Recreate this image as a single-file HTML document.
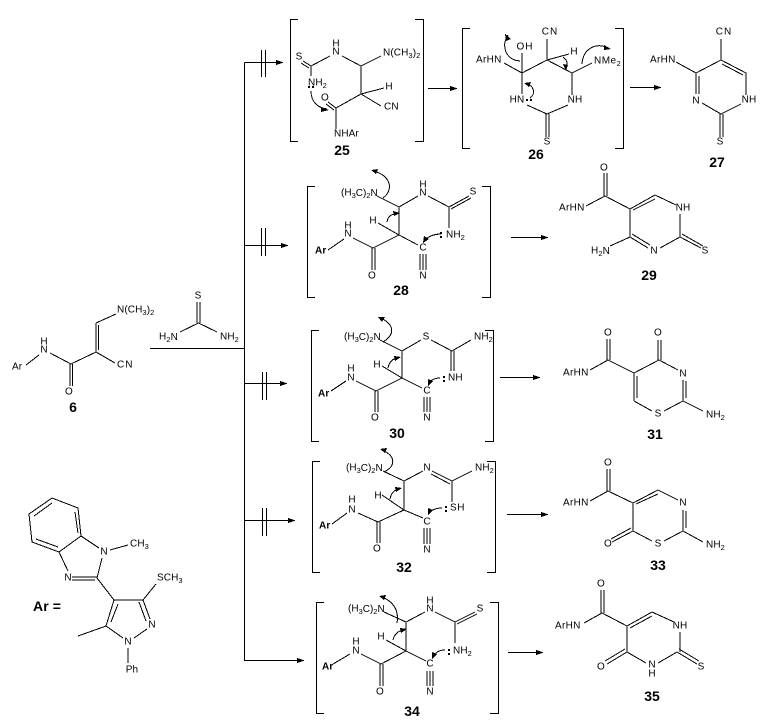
<!DOCTYPE html>
<html><head><meta charset="utf-8">
<style>
html,body{margin:0;padding:0;background:#fff;width:762px;height:725px;overflow:hidden}
svg{display:block}
text{font-family:"Liberation Sans",sans-serif;font-size:10px;fill:#000;dominant-baseline:central;letter-spacing:.1px}
.m{text-anchor:middle}
.b{font-size:14px;font-weight:bold;text-anchor:middle;letter-spacing:0}
tspan.s{font-size:7.5px}
.l{fill:none;stroke:#000;stroke-width:1;shape-rendering:crispEdges}
.f{fill:#000;stroke:none;shape-rendering:crispEdges}
</style></head><body>
<svg width="762" height="725" viewBox="0 0 762 725" xmlns="http://www.w3.org/2000/svg">
<!-- main reaction lines -->
<path class="l" d="M150 348.5H244.5M244.5 62.5V660.5H300M244.5 62.5H280M244.5 245.5H285M244.5 383.5H284M244.5 520.5H292
M261.5 50V77M265.5 50V77M261.5 228V256M265.5 228V256M262.5 372V400M266.5 372V400M262.5 508V536M266.5 508V536
M428 88.5H455M630 87.5H660M511 237.5H546M500 377.5H538M507 514.5H546M508 652.5H541"/>
<path class="f" d="M284 62.5l-8-2.5v5zM289 245.5l-8-2.5v5zM288 383.5l-8-2.5v5zM296 520.5l-8-2.5v5zM305 660.5l-8-2.5v5zM458 88.5l-8-2.5v5zM662 87.5l-8-2.5v5zM549 237.5l-8-2.5v5zM541 377.5l-8-2.5v5zM549 514.5l-8-2.5v5zM544 652.5l-8-2.5v5z"/>
<!-- brackets -->
<path class="l" d="M298 19.5H290.5V141.5H298M415 19.5H423.5V141.5H415
M470 28.5H462.5V148.5H470M615 28.5H623.5V148.5H615
M315 186.5H307.5V297.5H315M482 186.5H490.5V297.5H482
M319 330.5H311.5V441.5H319M485 330.5H493.5V441.5H485
M320 461.5H312.5V572.5H320M487 461.5H495.5V572.5H487
M324 602.5H316.5V713.5H324M490 602.5H498.5V713.5H490"/>
<!-- bonds -->
<path class="l" d="
M96 323V352M98.5 325V350M96 323L116 314M96 352L71 364M96 352L115 363M70 364V386M72.5 364V386M71 364L50 353M26 365L39 355
M197 302V323M200 302V323M180 332L198.5 323L217 332
M52 498L78 508L81 536L59 552L32 542L29 514L52 498M34 516L52 503M75 512L78 533M36 539L58 547M59 552L68 571M81 536L99 548M102 558L97 578M72 577H97M72 580H95M97 578L114 600
M114 600H143M143 600L150 619M139 602L146 621M114 600L106 626M118 604L111 622M106 626L123 638M134 638L147 629M106 626L78 636M128 648V663M143 600L156 584M110 550L128 545
M311 66L330 56M342 56L361 66M361 66L381 56M311 66L303 61M309 68L301 63M311 66V76M361 66V94M361 94L336 108M361 94L384 88M361 94L381 106M336 108L328 102M334 110L326 104M336 108V129
M522 73L547 60L572 73M572 73V95M522 73V94M527 105L547 114L568 105M546 114V137M549 114V137M547 60V39M504 63L522 73M522 73V53M547 60L569 54M572 73L592 63
M696 73L721 60L746 73V95M722 64L743 75M696 73V94M699 76V94M702 103L721 114L741 104M720 114V137M723 114V137M721 60V39M676 62L696 73
M399 207V235L373 248M353 238L373 248M372 248V270M375 248V270M328 250L344 239M399 235L418 245M420 254V270M423 254V270M426 254V270M399 207L418 196M428 196L449 207M449 207L469 196M451 209L471 198M449 207V228M378 223L399 235M377 196L399 207
M630 209L655 195L676 205M633 210L655 199M680 214V237M680 237L701 248M682 234L703 246M680 237L660 248M648 248L630 237M632 234L650 245M630 209V237M630 209L605 196M604 196V173M607 196V173M586 206L605 196M610 246L630 237
M402 351V378L376 391M356 381L376 391M375 391V412M378 391V412M331 391L346 381M402 378L422 388M424 397V412M427 397V412M430 397V412M402 351L421 340M431 340L452 351M452 351L471 340M451 351V371M454 351V371M382 366L402 378M380 340L402 351
M634 373L659 360L678 370M634 373L608 360M607 360V339M610 360V339M658 360V340M661 360V340M590 370L608 360M683 380V401M686 381V398M683 401L664 411M652 411L634 401M634 373V401M637 376V398M683 401L703 411
M404 481V510L378 522M358 513L378 522M377 522V543M380 522V543M332 524L347 513M404 510L423 518M424 528V544M427 528V544M430 528V544M404 481L423 471M432 471L452 481M431 474L450 484M452 481L472 471M452 481V502M382 495L404 510M383 471L404 481
M633 503L658 490L678 500M636 504L658 494M633 503L608 491M607 491V469M610 491V469M590 501L608 491M683 510V531M686 511V528M683 531L664 541M652 541L633 531M633 503V531M633 531L612 542M631 528L611 539M683 531L703 542
M406 622V651L381 664M361 654L381 664M380 664V686M383 664V686M333 664L350 654M406 651L426 661M427 671V686M430 671V686M433 671V686M406 622L425 612M435 612L455 622M455 622L475 612M457 624L477 614M455 622V643M386 640L406 651M384 612L406 622
M627 626L652 612L674 622M630 628L652 616M627 626L602 613M601 613V590M604 613V590M584 623L602 613M680 632V652M677 652L697 664M679 649L699 661M677 652L658 663M646 663L627 652M627 626V652M627 652L607 664M625 649L605 661"/>
<!-- curved arrows -->
<path class="l" d="M311 91C311 103 319 108 327 109
M520 61C505 60 501 45 508 35
M563 57C567 60 568 63 566 68
M582 64C583 48 597 42 608 48
M530 98C536 94 534 85 526 84
M383 198C394 190 391 175 373 171
M387 222C388 216 391 214 397 214
M441 234C434 234 429 236 425 240
M383 342C394 335 396 326 381 318
M388 368C389 362 393 358 399 358
M440 378C435 378 431 380 429 383
M384 472C396 466 396 456 382 450
M390 499C391 494 394 489 400 489
M442 508C437 508 433 509 430 512
M397 623C399 611 394 602 382 597
M393 640C394 635 398 630 405 630
M445 650C440 650 436 652 434 656"/>
<path class="f" d="M329 110l-8-3v5zM505 34l6 5 -5 2zM566 71l-3-7 5 1zM611 49l-7-4 0 5zM524 83l7-1 -2 5zM371 170l7-1-2 5zM400 213l-7-2 1 5zM423 243l1-7 5 3zM378 317l7 0-3 5zM401 357l-7-1 1 5zM428 386l0-7 5 2zM380 449l7-1-2 5zM402 488l-7-1 1 5zM428 515l0-7 5 2zM379 596l7-1-2 5zM407 629l-7-1 1 5zM432 659l0-7 5 2z"/>
<!-- lone pair dots -->
<path class="f" d="M308 86h2v2h-2zM312 86h2v2h-2zM526 99h2v2h-2zM530 99h2v2h-2zM440 232h2v2h-2zM440 236h2v2h-2zM443 376h2v2h-2zM443 380h2v2h-2zM445 506h2v2h-2zM445 510h2v2h-2zM448 649h2v2h-2zM448 653h2v2h-2z"/>
<!-- compound 6 -->
<text x="117" y="310">N(CH<tspan class="s" dy="2">3</tspan><tspan dy="-2">)</tspan><tspan class="s" dy="2">2</tspan></text>
<text class="m" x="44" y="342">H</text><text class="m" x="44" y="350">N</text>
<text x="12" y="367">Ar</text><text class="m" x="69" y="392">O</text><text x="117" y="365" style="letter-spacing:1px">CN</text>
<text class="b" x="73" y="407">6</text>
<!-- thiourea -->
<text class="m" x="198" y="296">S</text>
<text x="159" y="337">H<tspan class="s" dy="2">2</tspan><tspan dy="-2">N</tspan></text>
<text x="220" y="337">NH<tspan class="s" dy="2">2</tspan></text>
<!-- Ar -->
<text x="130" y="544">CH<tspan class="s" dy="2">3</tspan></text>
<text class="m" x="104" y="552">N</text><text class="m" x="68" y="578">N</text>
<text x="157" y="578">SCH<tspan class="s" dy="2">3</tspan></text>
<text class="m" x="152" y="625">N</text><text class="m" x="128" y="642">N</text><text class="m" x="132" y="670">Ph</text>
<text x="33" y="606" style="font-size:14px;font-weight:bold">Ar =</text>
<!-- 25 -->
<text class="m" x="336" y="44">H</text><text class="m" x="336" y="52">N</text>
<text x="383" y="53">N(CH<tspan class="s" dy="2">3</tspan><tspan dy="-2">)</tspan><tspan class="s" dy="2">2</tspan></text>
<text class="m" x="299" y="57">S</text>
<text x="308" y="83">NH<tspan class="s" dy="2">2</tspan></text>
<text class="m" x="325" y="98">O</text><text x="334" y="134">NHAr</text>
<text class="m" x="389" y="87">H</text><text x="384" y="107">CN</text>
<text class="b" x="342" y="150">25</text>
<!-- 26 -->
<text x="476" y="60" style="letter-spacing:.3px">ArHN</text>
<text class="m" x="525" y="47" style="letter-spacing:1px">OH</text>
<text class="m" x="550" y="32" style="letter-spacing:1px">CN</text>
<text class="m" x="574" y="52">H</text>
<text x="594" y="61" style="letter-spacing:.5px">NMe<tspan class="s" dy="2">2</tspan></text>
<text class="m" x="517" y="100">HN</text><text class="m" x="575" y="100">NH</text>
<text class="m" x="547" y="142">S</text>
<text class="b" x="536" y="154">26</text>
<!-- 27 -->
<text class="m" x="724" y="32" style="letter-spacing:1px">CN</text>
<text x="650" y="60" style="letter-spacing:.3px">ArHN</text>
<text class="m" x="696" y="101">N</text><text class="m" x="749" y="100">NH</text>
<text class="m" x="720" y="142">S</text>
<text class="b" x="717" y="162">27</text>
<!-- 28 -->
<text x="341" y="193" style="letter-spacing:0">(H<tspan class="s" dy="2">3</tspan><tspan dy="-2">C)</tspan><tspan class="s" dy="2">2</tspan><tspan dy="-2">N</tspan></text>
<text class="m" x="423" y="185">H</text><text class="m" x="423" y="193">N</text>
<text class="m" x="473" y="192">S</text>
<text class="m" x="348" y="226">H</text><text class="m" x="348" y="234">N</text>
<text class="m" x="373" y="221">H</text>
<text x="446" y="235">NH<tspan class="s" dy="2">2</tspan></text>
<text x="315" y="251" style="font-weight:bold">Ar</text>
<text class="m" x="423" y="248">C</text><text class="m" x="372" y="276">O</text><text class="m" x="423" y="276">N</text>
<text class="b" x="401" y="290">28</text>
<!-- 29 -->
<text class="m" x="604" y="168">O</text>
<text x="559" y="208" style="letter-spacing:.3px">ArHN</text>
<text class="m" x="683" y="208">NH</text>
<text x="591" y="251">H<tspan class="s" dy="2">2</tspan><tspan dy="-2">N</tspan></text>
<text class="m" x="654" y="251">N</text><text class="m" x="705" y="251">S</text>
<text class="b" x="649" y="275">29</text>
<!-- 30 -->
<text x="344" y="337" style="letter-spacing:0">(H<tspan class="s" dy="2">3</tspan><tspan dy="-2">C)</tspan><tspan class="s" dy="2">2</tspan><tspan dy="-2">N</tspan></text>
<text class="m" x="426" y="337">S</text>
<text x="474" y="337">NH<tspan class="s" dy="2">2</tspan></text>
<text class="m" x="377" y="365">H</text>
<text class="m" x="351" y="369">H</text><text class="m" x="351" y="378">N</text>
<text x="448" y="378">NH</text>
<text x="318" y="394" style="font-weight:bold">Ar</text>
<text class="m" x="427" y="391">C</text><text class="m" x="375" y="418">O</text><text class="m" x="427" y="418">N</text>
<text class="b" x="397" y="433">30</text>
<!-- 31 -->
<text class="m" x="608" y="333">O</text><text class="m" x="658" y="333">O</text>
<text x="563" y="373" style="letter-spacing:.3px">ArHN</text>
<text class="m" x="683" y="374">N</text><text class="m" x="658" y="414">S</text>
<text x="706" y="415">NH<tspan class="s" dy="2">2</tspan></text>
<text class="b" x="655" y="434">31</text>
<!-- 32 -->
<text x="346" y="468" style="letter-spacing:0">(H<tspan class="s" dy="2">3</tspan><tspan dy="-2">C)</tspan><tspan class="s" dy="2">2</tspan><tspan dy="-2">N</tspan></text>
<text class="m" x="427" y="468">N</text>
<text x="475" y="468">NH<tspan class="s" dy="2">2</tspan></text>
<text class="m" x="378" y="496">H</text>
<text class="m" x="352" y="500">H</text><text class="m" x="352" y="510">N</text>
<text x="450" y="508" style="letter-spacing:.6px">SH</text>
<text x="319" y="526" style="font-weight:bold">Ar</text>
<text class="m" x="427" y="522">C</text><text class="m" x="377" y="549">O</text><text class="m" x="427" y="550">N</text>
<text class="b" x="404" y="567">32</text>
<!-- 33 -->
<text class="m" x="608" y="463">O</text>
<text x="563" y="503" style="letter-spacing:.3px">ArHN</text>
<text class="m" x="683" y="503">N</text><text class="m" x="608" y="544">O</text><text class="m" x="658" y="544">S</text>
<text x="706" y="545">NH<tspan class="s" dy="2">2</tspan></text>
<text class="b" x="658" y="565">33</text>
<!-- 34 -->
<text x="348" y="609" style="letter-spacing:0">(H<tspan class="s" dy="2">3</tspan><tspan dy="-2">C)</tspan><tspan class="s" dy="2">2</tspan><tspan dy="-2">N</tspan></text>
<text class="m" x="430" y="601">H</text><text class="m" x="430" y="609">N</text>
<text class="m" x="480" y="609">S</text>
<text class="m" x="381" y="637">H</text>
<text class="m" x="356" y="642">H</text><text class="m" x="356" y="651">N</text>
<text x="453" y="651">NH<tspan class="s" dy="2">2</tspan></text>
<text x="322" y="667" style="font-weight:bold">Ar</text>
<text class="m" x="430" y="664">C</text><text class="m" x="380" y="692">O</text><text class="m" x="430" y="692">N</text>
<text class="b" x="412" y="711">34</text>
<!-- 35 -->
<text class="m" x="601" y="584">O</text>
<text x="555" y="626" style="letter-spacing:.3px">ArHN</text>
<text class="m" x="680" y="626">NH</text>
<text class="m" x="601" y="667">O</text>
<text class="m" x="652" y="665">N</text><text class="m" x="652" y="674">H</text>
<text class="m" x="701" y="667">S</text>
<text class="b" x="652" y="696">35</text>
</svg>
</body></html>
